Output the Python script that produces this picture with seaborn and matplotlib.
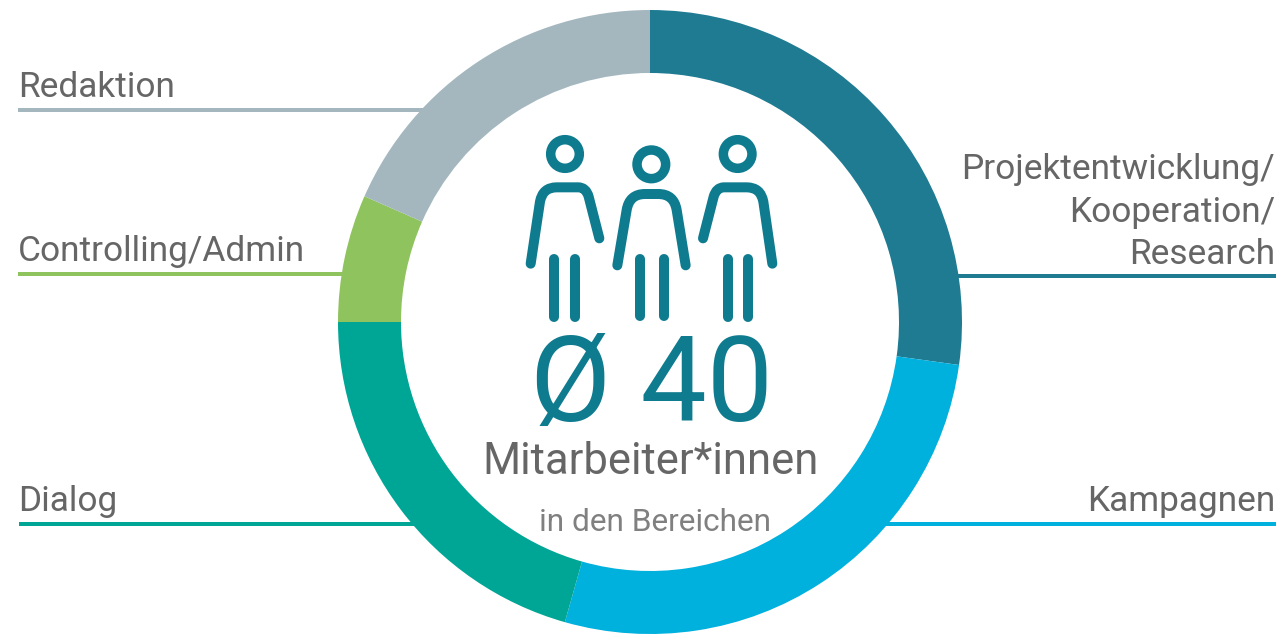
import matplotlib
matplotlib.use("Agg")
import matplotlib.pyplot as plt
import seaborn as sns
from matplotlib.path import Path
from matplotlib.patches import PathPatch, Circle

categories = ["Projektentwicklung/\nKooperation/\nResearch", "Kampagnen", "Dialog", "Controlling/Admin", "Redaktion"]
shares = [27.2, 27.2, 20.6, 6.6, 18.4]
hex_colors = ["#1E7B92", "#00B0DD", "#00A695", "#8FC35D", "#A4B7BF"]
headline = "Ø 40"
subline = "Mitarbeiter*innen"
note = "in den Bereichen"

TEXT = "#666666"
ICON = "#0F7B8F"
W, H = 1281, 635

sns.set_theme(style="white")
plt.rcParams["font.family"] = ["Roboto", "DejaVu Sans"]
palette = sns.color_palette(hex_colors)

fig = plt.figure(figsize=(W / 100, H / 100), dpi=100, facecolor="white")


def pixel_axes(z):
    ax = fig.add_axes([0, 0, 1, 1], zorder=z)
    ax.set_xlim(0, W)
    ax.set_ylim(H, 0)
    ax.axis("off")
    ax.patch.set_alpha(0)
    return ax


back = pixel_axes(0)

# ring
cx, cy, R = 650, 322, 312
pie_ax = fig.add_axes([(cx - R) / W, 1 - (cy + R) / H, 2 * R / W, 2 * R / H], zorder=1)
pie_ax.pie(shares, colors=palette, startangle=90, counterclock=False, radius=1,
           wedgeprops=dict(width=63 / 312, linewidth=0))
pie_ax.set_xlim(-1, 1)
pie_ax.set_ylim(-1, 1)
pie_ax.axis("off")

front = pixel_axes(2)

# leader lines and labels
leaders = [
    (955, 1276, 276, 1275, 271, "right"),
    (885, 1276, 524, 1275, 518, "right"),
    (19, 415, 524, 18, 518, "left"),
    (18, 345, 274, 18, 268, "left"),
    (18, 425, 110, 18, 104, "left"),
]
for cat, col, (x0, x1, y, tx, ty, ha) in zip(categories, palette, leaders):
    back.plot([x0, x1], [y, y], color=col, lw=4 * 0.72, solid_capstyle="butt")
    front.text(tx, ty, cat, ha=ha, va="bottom", color=TEXT, fontsize=25.4,
               linespacing=1.36, multialignment=ha)

# pictogram
LW = 10 * 0.72


def Z(x, y):
    return (510 + x / 3, 120 + y / 3)


def stroke(verts, codes):
    front.add_patch(PathPatch(Path([Z(*v) for v in verts], codes), fill=False, edgecolor=ICON,
                              lw=LW, capstyle="round", joinstyle="round"))


M, L, C = Path.MOVETO, Path.LINETO, Path.CURVE3
bodies = [
    ([(62, 431), (90, 245), (98, 202), (140, 202), (205, 202), (228, 202), (236, 230), (268, 355)],
     [M, L, C, C, L, C, C, L]),
    ([(322, 436), (350, 270), (358, 222), (405, 222), (445, 222), (492, 222), (500, 270), (527, 436)],
     [M, L, C, C, L, C, C, L]),
    ([(579, 355), (611, 230), (619, 202), (642, 202), (710, 202), (752, 202), (760, 245), (787, 431)],
     [M, L, C, C, L, C, C, L]),
]
heads = [(165, 102), (424, 133), (683, 102)]
legs = [(133, 195, 592), (389, 461, 588), (653, 715, 592)]
for body, head, leg in zip(bodies, heads, legs):
    stroke(*body)
    front.add_patch(Circle(Z(*head), 14.3, fill=False, edgecolor=ICON, lw=9.5 * 0.72))
    for lx in leg[:2]:
        stroke([(lx, 418), (lx, leg[2])], [M, L])

# centre text
front.text(652, 421, headline, ha="center", va="baseline", color=ICON, fontsize=85, fontweight="normal")
front.text(651, 474, subline, ha="center", va="baseline", color=TEXT, fontsize=31.4)
front.text(655, 531, note, ha="center", va="baseline", color="#808080", fontsize=22.8, fontweight="normal")

fig.savefig("out.png", dpi=100, facecolor="white")
